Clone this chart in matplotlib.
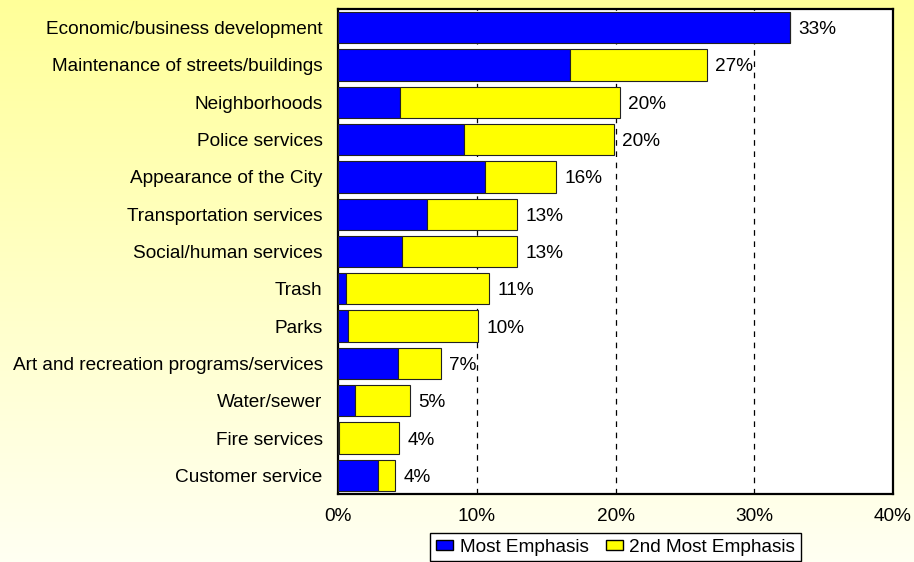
import numpy as np
import matplotlib.pyplot as plt
from matplotlib.patches import Patch

plt.rcParams['font.family'] = ['Liberation Sans', 'DejaVu Sans']

categories = [
    "Economic/business development",
    "Maintenance of streets/buildings",
    "Neighborhoods",
    "Police services",
    "Appearance of the City",
    "Transportation services",
    "Social/human services",
    "Trash",
    "Parks",
    "Art and recreation programs/services",
    "Water/sewer",
    "Fire services",
    "Customer service",
]
most = [32.6, 16.7, 4.5, 9.1, 10.6, 6.4, 4.6, 0.6, 0.7, 4.3, 1.2, 0.1, 2.9]
second = [0.0, 9.9, 15.8, 10.8, 5.1, 6.5, 8.3, 10.3, 9.4, 3.1, 4.0, 4.3, 1.2]
xticks = [0, 10, 20, 30, 40]

W, H = 914, 562
FS = 13.7
fig = plt.figure(figsize=(W / 100, H / 100), dpi=100)

# yellow-to-cream vertical wash behind everything
bg = fig.add_axes([0, 0, 1, 1], zorder=0)
grad = np.linspace(0, 1, 256).reshape(-1, 1)
top = np.array([1.0, 1.0, 0.6])
bot = np.array([1.0, 1.0, 0.95])
img = top + (bot - top) * grad[..., None]
bg.imshow(img, aspect='auto', extent=[0, 1, 0, 1])
bg.axis('off')

ax = fig.add_axes([338 / W, 1 - 494 / H, (893 - 338) / W, (494 - 9) / H], zorder=1)
ax.set_facecolor('white')

y = np.arange(len(categories))
most = np.array(most)
second = np.array(second)
total = most + second

ax.barh(y, most, height=0.84, color='#0000FF', edgecolor='#222222', linewidth=0.8, zorder=3)
ax.barh(y, second, left=most, height=0.84, color='#FFFF00', edgecolor='#222222', linewidth=0.8, zorder=3)

for yi, t in zip(y, total):
    ax.annotate(f"{round(t)}%", (t, yi), xytext=(6, 0), textcoords='offset points',
                va='center_baseline', ha='left', fontsize=FS, zorder=4)

for g in xticks[1:-1]:
    ax.axvline(g, color='black', linewidth=0.9, linestyle=(0, (4.5, 4.5)), zorder=2)

ax.set_xlim(0, 40)
ax.set_ylim(len(categories) - 0.5, -0.5)
ax.set_xticks(xticks)
ax.set_xticklabels([f"{v}%" for v in xticks])
ax.set_yticks(y)
ax.set_yticklabels(categories)
ax.tick_params(axis='both', length=0, labelsize=FS)
ax.tick_params(axis='x', pad=10)
ax.tick_params(axis='y', pad=11)
for s in ax.spines.values():
    s.set_linewidth(1.6)
    s.set_color('black')

handles = [Patch(facecolor='#0000FF', edgecolor='black', label='Most Emphasis'),
           Patch(facecolor='#FFFF00', edgecolor='black', label='2nd Most Emphasis')]
leg = fig.legend(handles=handles, loc='upper center', bbox_to_anchor=(615.5 / W, 1 - 533 / H),
                 ncol=2, fontsize=FS, frameon=True, fancybox=False, borderpad=0.3,
                 handlelength=0.9, handleheight=0.5, handletextpad=0.35, columnspacing=0.9,
                 borderaxespad=0)
leg.get_frame().set_edgecolor('black')
leg.get_frame().set_linewidth(1.0)
leg.get_frame().set_facecolor('white')
leg.get_frame().set_alpha(1)

fig.savefig('out.png', dpi=100)
